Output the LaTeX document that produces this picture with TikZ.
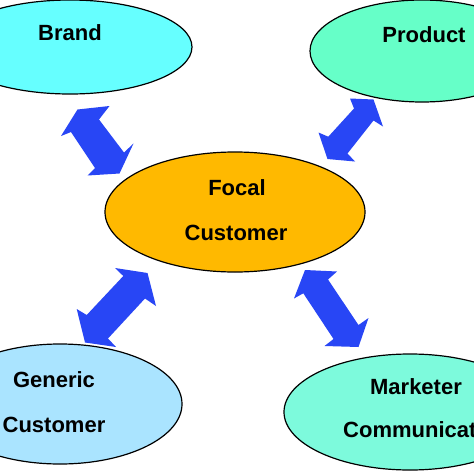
\documentclass[tikz,border=0pt]{standalone}
\usepackage{fontspec}
\setmainfont{Liberation Sans}
\usetikzlibrary{shapes.geometric}
\definecolor{brandc}{RGB}{102,255,255}
\definecolor{prodc}{RGB}{102,255,200}
\definecolor{focalc}{RGB}{255,185,0}
\definecolor{genc}{RGB}{170,228,255}
\definecolor{markc}{RGB}{125,250,220}
\definecolor{arrc}{RGB}{40,70,245}
\tikzset{
  oval/.style={ellipse, draw=black, line width=1.2pt, inner sep=0pt},
  lbl/.style={font=\bfseries\fontsize{22}{26}\selectfont, inner sep=0pt, anchor=base},
  blockarrow/.style={fill=arrc, draw=none}
}
\begin{document}
\begin{tikzpicture}[x=1pt,y=-1pt]
\useasboundingbox (0,0) rectangle (474,474);
\clip (0,0) rectangle (474,474);
\fill[white] (0,0) rectangle (474,474);
% ellipses
\node[oval, fill=brandc, minimum width=244pt, minimum height=94pt] (brand) at (70,47) {};
\node[oval, fill=prodc, minimum width=224pt, minimum height=102pt] (product) at (422,51) {};
\node[oval, fill=focalc, minimum width=260pt, minimum height=120pt] (focal) at (235,212) {};
\node[oval, fill=genc, minimum width=244pt, minimum height=120pt] (generic) at (60,404) {};
\node[oval, fill=markc, minimum width=252pt, minimum height=116pt] (marketer) at (410,412) {};
% texts
\node[lbl] (tbrand) at (70,40) {Brand};
\node[lbl] (tproduct) at (424,42) {Product};
\node[lbl] (tfocal1) at (237,195) {Focal};
\node[lbl] (tfocal2) at (236,240) {Customer};
\node[lbl] (tgen1) at (54,387) {Generic};
\node[lbl] (tgen2) at (54,432) {Customer};
\node[lbl] (tmark1) at (416,394) {Marketer};
\node[lbl, anchor=base west] (tmark2) at (343,437) {Communicator};
% block arrows
\fill[blockarrow] (61,136) -- (77.5,109.5) -- (109.5,106) -- (99,119.5) -- (124,152.5)
  -- (133.5,143.5) -- (119.5,173.5) -- (87.5,175.5) -- (95,168) -- (71,132) -- cycle;
\fill[blockarrow] (350,98.5) -- (373.5,99.5) -- (383,126.5) -- (373.5,120.5) -- (347.5,153.5)
  -- (355,161.5) -- (327.5,159) -- (318.5,132.5) -- (328.3,136.7) -- (354,108.5) -- cycle;
\fill[blockarrow] (115,268) -- (147.5,273) -- (156,306) -- (145,298.5) -- (108,338.5)
  -- (116,347) -- (85,342.5) -- (76.7,309) -- (86.7,315) -- (123.3,276) -- cycle;
\fill[blockarrow] (305,270) -- (337,271.5) -- (328,279.5) -- (358.5,325) -- (368.5,318)
  -- (358.5,347) -- (324.5,346) -- (333.5,339) -- (303.3,293.3) -- (294,298.5) -- cycle;
\end{tikzpicture}
\end{document}
